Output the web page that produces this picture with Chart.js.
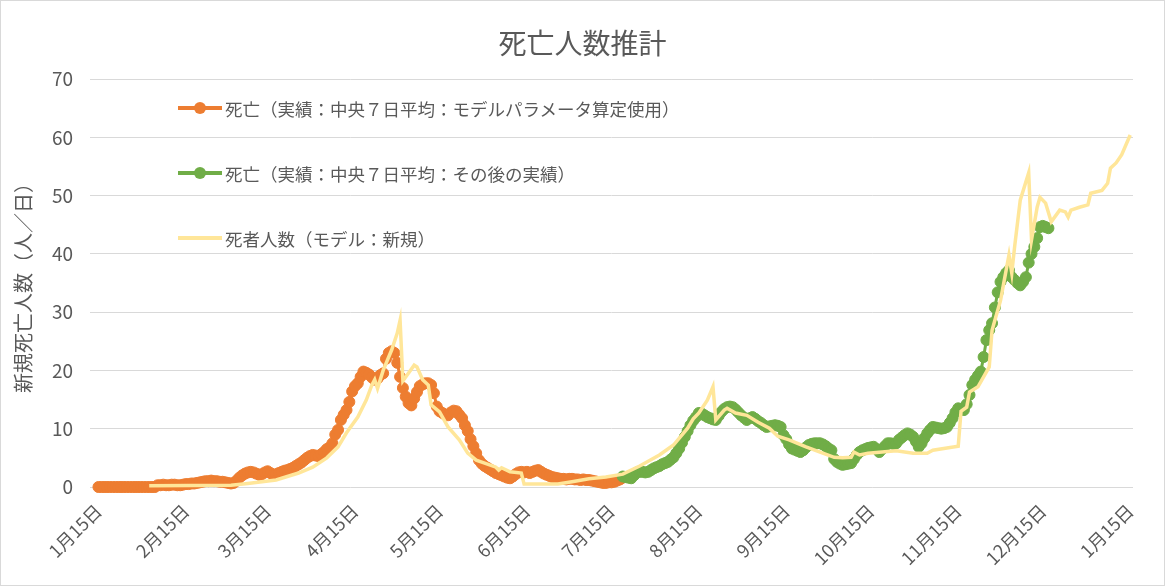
<!DOCTYPE html>
<html lang="ja">
<head>
<meta charset="UTF-8">
<title>死亡人数推計</title>
<script src="https://cdn.jsdelivr.net/npm/chart.js"></script>
<style>
  body { margin: 0; background: #fff; }
  .wrap { position: relative; width: 1165px; height: 586px; border: 1px solid #d9d9d9; box-sizing: border-box; background: #fff; }
  .title { position: absolute; left: 0; right: 0; top: 23px; text-align: center;
    font-family: "Noto Sans CJK JP", sans-serif; font-size: 28px; line-height: 36px; color: #595959; }
  .legend-item { position: absolute; left: 177px; height: 24px; display: flex; align-items: center;
    font-family: "Noto Sans CJK JP", sans-serif; font-size: 17.5px; color: #595959; white-space: nowrap; }
  .legend-item svg { margin-right: 3px; }
</style>
</head>
<body>
<div class="wrap">
  <canvas id="chart" width="1163" height="584"></canvas>
  <div class="title">死亡人数推計</div>
  <div class="legend-item" style="top: 95px;">
    <svg width="44" height="14"><line x1="0" y1="7" x2="44" y2="7" stroke="#ED7D31" stroke-width="4"/><circle cx="22" cy="7" r="6" fill="#ED7D31"/></svg>
    <span>死亡（実績：中央７日平均：モデルパラメータ算定使用）</span>
  </div>
  <div class="legend-item" style="top: 160px;">
    <svg width="44" height="14"><line x1="0" y1="7" x2="44" y2="7" stroke="#70AD47" stroke-width="4"/><circle cx="22" cy="7" r="6" fill="#70AD47"/></svg>
    <span>死亡（実績：中央７日平均：その後の実績）</span>
  </div>
  <div class="legend-item" style="top: 225px;">
    <svg width="44" height="14"><line x1="0" y1="7" x2="44" y2="7" stroke="#FFE699" stroke-width="4"/></svg>
    <span>死者人数（モデル：新規）</span>
  </div>
</div>
<script>
// 1月15日 = day 0
const tickDays = [0, 31, 60, 91, 121, 152, 182, 213, 244, 274, 305, 335, 366];
const tickLabels = ['1月15日', '2月15日', '3月15日', '4月15日', '5月15日', '6月15日', '7月15日',
    '8月15日', '9月15日', '10月15日', '11月15日', '12月15日', '1月15日'];

// 死亡（実績：中央7日平均：モデルパラメータ算定使用）
const orangeStart = 0;
const orangeValues = [
    0, 0, 0, 0, 0, 0, 0, 0, 0, 0, 0, 0, 0, 0, 0, 0, 0, 0, 0, 0, 0,
    0.3, 0.3, 0.4, 0.3, 0.3, 0.4, 0.4, 0.3, 0.3, 0.4, 0.5, 0.5, 0.6, 0.6, 0.7,
    0.8, 0.9, 1.0, 1.0, 1.1, 1.0, 1.0, 0.9, 0.9, 0.8, 0.7,
    0.6, 0.7,
    1.1, 1.6, 2.0, 2.3, 2.5, 2.6, 2.5,
    2.3, 2.1, 2.2, 2.5, 2.7, 2.4, 2.1, 2.2, 2.4, 2.6, 2.8, 2.9, 3.1,
    3.3, 3.6, 3.9, 4.2, 4.6, 5.0, 5.3, 5.5,
    5.4, 5.3, 5.6, 6.0, 6.5, 6.8, 7.5,
    9.0, 9.8, 11.5, 12.4, 13.2, 14.6, 16.4, 17.3, 17.8, 18.9, 19.8,
    19.6, 19.3, 18.8, 18.4, 18.6, 19.2, 19.5,
    22.0, 23.0, 23.3, 23.0, 21.3, 18.9, 17.0,
    15.5, 14.4, 14.0, 15.2, 16.3, 17.3, 17.6, 17.8, 17.8, 17.5, 16.1, 13.8,
    13.0, 12.7, 12.4, 12.3, 12.8, 13.1, 13.0, 12.4, 11.8, 10.6, 9.6,
    8.2, 7.0, 5.8, 4.6, 4.0, 3.6, 3.3, 3.0, 2.7, 2.4, 2.2,
    2.0, 1.8, 1.6, 1.5, 1.8, 2.2, 2.5, 2.6, 2.5, 2.6, 2.4, 2.6, 2.8, 2.9, 2.6, 2.3, 2.1, 1.9,
    1.7, 1.6, 1.5, 1.4, 1.4, 1.3, 1.4, 1.4, 1.3, 1.3, 1.2, 1.3, 1.2, 1.2, 1.1, 1.0, 0.9, 0.8,
    0.7, 0.7, 0.8, 0.8, 0.9, 1.1, 1.3, 1.6
];

// 死亡（実績：中央7日平均：その後の実績）
const greenStart = 186;
const greenValues = [
    1.8, 1.7, 1.6, 1.5, 2.0, 2.5, 2.6, 2.6, 2.5, 2.6,
    2.9, 3.2, 3.4, 3.6, 3.9, 4.1, 4.3, 4.7, 5.1, 5.8,
    6.6, 7.6, 8.6, 9.6, 10.6, 11.4, 12.0, 12.7, 12.6, 12.3,
    12.0, 11.8, 11.6, 11.5, 12.2, 12.9, 13.4, 13.7, 13.8, 13.7,
    13.3, 12.8, 12.3, 11.9, 11.5, 11.8, 12.0, 11.7, 11.3, 11.0,
    10.6, 10.3, 10.4, 10.5, 10.6, 10.5, 10.3, 8.9, 8.2, 7.3,
    6.6, 6.4, 6.2, 6.0, 6.3, 6.8, 7.2, 7.4, 7.5, 7.5,
    7.5, 7.3, 7.0, 6.6, 6.3, 4.8, 4.3, 4.0, 3.8, 3.9,
    4.0, 4.1, 4.8, 5.5, 6.0, 6.3, 6.5, 6.7, 6.8, 6.9,
    6.5, 6.0, 6.5, 7.0, 7.5, 7.5, 7.4, 7.5, 8.1, 8.5,
    8.9, 9.2, 9.0, 8.6, 7.8, 6.9, 7.5, 8.4, 9.2, 9.8,
    10.3, 10.2, 10.1, 10.0, 10.1, 10.3, 11.0, 11.8, 12.8, 13.5,
    13.4, 13.2, 14.2, 15.8, 17.5, 18.4, 19.1, 19.8, 22.3, 25.2,
    26.9, 28.1, 30.8, 33.4, 35.2, 36.0, 36.7, 37.2, 36.0, 35.5,
    35.0, 34.6, 35.2, 36.0, 38.5, 40.0, 41.2, 42.7, 44.6, 44.8,
    44.6, 44.4
];

// 死者人数（モデル：新規）
const modelDays = [18, 47, 53, 63, 71, 76, 81, 85, 88, 92, 95, 97, 98, 99, 101, 104, 106, 107, 108, 112,
    113, 115, 117, 118, 121, 124, 128, 131, 134, 137, 141, 142, 143, 146, 150, 151, 163, 168, 174, 180,
    186, 192, 199, 204, 209, 211, 213, 216, 218, 219, 222, 223, 226, 230, 234, 238, 241, 245, 251, 256,
    261, 264, 267, 268, 270, 273, 283, 289, 294, 296, 301, 305, 306, 308, 309, 312, 314, 316, 317, 318,
    320, 322, 323, 324, 325, 327, 330, 331, 333, 334, 336, 338, 341, 343, 344, 345, 348, 351, 352, 356,
    358, 359, 361, 363, 366];
const modelValues = [0.2, 0.3, 0.6, 1.2, 2.4, 3.4, 5.0, 6.9, 9.3, 12.0, 14.9, 17.5, 18.4, 16.9, 20.0, 23.5, 26.4, 28.6, 18.2, 20.9,
    20.6, 18.4, 17.5, 14.1, 12.9, 10.3, 8.1, 5.8, 4.6, 4.1, 3.4, 2.9, 3.3, 2.6, 2.4, 0.5, 0.5, 0.9, 1.4, 1.7,
    2.2, 3.6, 5.5, 7.2, 10.1, 11.7, 12.7, 14.9, 17.2, 11.5, 13.2, 13.5, 12.7, 12.3, 11.1, 10.1, 8.7, 8.1, 6.9, 6.0,
    5.1, 5.0, 5.1, 6.0, 5.5, 5.8, 6.2, 5.8, 5.8, 6.3, 6.7, 7.0, 13.0, 13.7, 16.3, 17.2, 18.9, 20.6, 26.9, 28.6,
    32.0, 37.2, 39.8, 36.7, 41.2, 49.2, 53.9, 42.4, 48.0, 49.7, 48.7, 45.5, 47.5, 47.2, 46.3, 47.5, 48.0, 48.4, 50.4, 50.9,
    52.1, 54.7, 55.6, 57.0, 60.4];

Chart.defaults.font.family = '"Noto Sans CJK JP", "Noto Sans", sans-serif';
Chart.defaults.color = '#595959';

var orangePts = orangeValues.map((v, i) => ({ x: orangeStart + i, y: v }));
var greenPts = greenValues.map((v, i) => ({ x: greenStart + i, y: v }));
var modelPts = modelDays.map((d, i) => ({ x: d, y: modelValues[i] }));

var ctx = document.getElementById('chart').getContext('2d');
var chart = new Chart(ctx, {
    type: 'line',
    data: {
        datasets: [{
            label: '死者人数（モデル：新規）',
            data: modelPts,
            borderColor: '#FFE699',
            borderWidth: 3.5,
            pointRadius: 0,
            tension: 0,
            clip: false
        }, {
            label: '死亡（実績：中央７日平均：その後の実績）',
            data: greenPts,
            borderColor: '#70AD47',
            backgroundColor: '#70AD47',
            borderWidth: 3,
            pointRadius: 5.5,
            pointBorderWidth: 1,
            pointBorderColor: '#70AD47',
            tension: 0,
            clip: false
        }, {
            label: '死亡（実績：中央７日平均：モデルパラメータ算定使用）',
            data: orangePts,
            borderColor: '#ED7D31',
            backgroundColor: '#ED7D31',
            borderWidth: 3,
            pointRadius: 5.5,
            pointBorderWidth: 1,
            pointBorderColor: '#ED7D31',
            tension: 0,
            clip: false
        }]
    },
    options: {
        responsive: false,
        animation: false,
        layout: { padding: { left: 0, right: 31, top: 78, bottom: 0 } },
        plugins: {
            legend: { display: false },
            tooltip: { enabled: false },
            title: { display: false }
        },
        scales: {
            x: {
                type: 'linear',
                min: -3,
                max: 367,
                grid: { display: false },
                border: { display: false },
                afterBuildTicks: axis => { axis.ticks = tickDays.map(v => ({ value: v })); },
                afterFit: s => { s.height = 98; },
                ticks: {
                    autoSkip: false,
                    maxRotation: 45,
                    minRotation: 45,
                    padding: 5,
                    font: { size: 18 },
                    callback: value => {
                        var i = tickDays.indexOf(value);
                        return i >= 0 ? tickLabels[i] : '';
                    }
                }
            },
            y: {
                min: 0,
                max: 70,
                grid: { color: '#d9d9d9', drawTicks: false },
                border: { display: false },
                afterFit: s => { s.width = 89; },
                ticks: { stepSize: 10, padding: 17, font: { size: 19 } },
                title: {
                    display: true,
                    text: '新規死亡人数（人／日）',
                    font: { size: 20 },
                    padding: { top: 10, bottom: 0 }
                }
            }
        }
    }
});
</script>
</body>
</html>
